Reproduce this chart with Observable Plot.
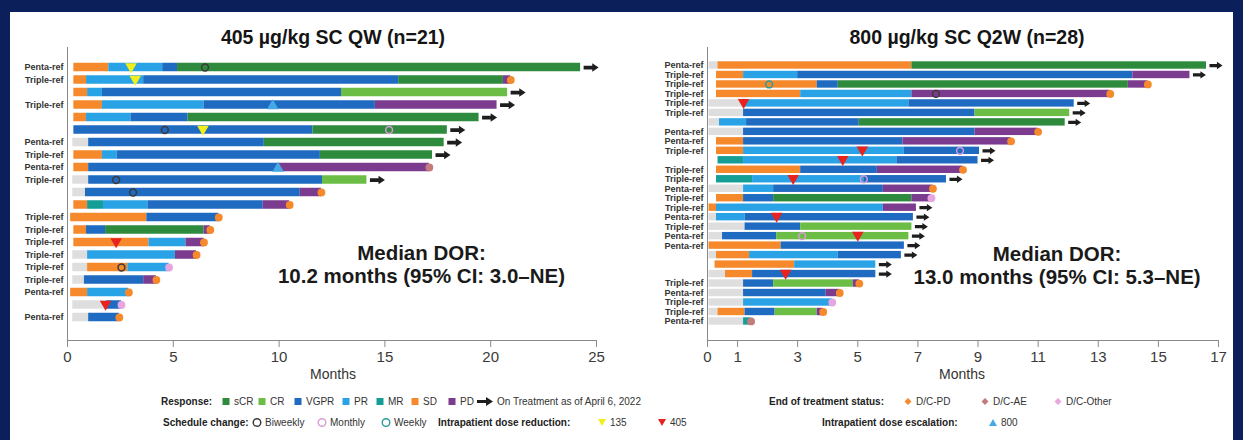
<!DOCTYPE html>
<html>
<head>
<meta charset="utf-8">
<script src="https://cdn.jsdelivr.net/npm/d3@7"></script>
<script src="https://cdn.jsdelivr.net/npm/@observablehq/plot@0.6"></script>
<style>
  html, body { margin: 0; padding: 0; }
  body { width: 1243px; height: 440px; overflow: hidden; background: #0b1f5b; position: relative;
         font-family: "Liberation Sans", Arial, sans-serif; }
  #sheet { position: absolute; left: 10px; top: 12px; width: 1223px; height: 440px; background: #fff; }
  .chart { position: absolute; top: 0; }
  .title { position: absolute; top: 26px; transform: translateX(-50%); white-space: nowrap;
           font-weight: bold; font-size: 19.5px; color: #151515; }
  .xlabel { position: absolute; top: 366px; transform: translateX(-50%); font-size: 14px; color: #333; }
  .lg { position: absolute; display: flex; align-items: center; gap: 3px; white-space: nowrap;
        font-size: 10px; color: #333; transform: translateY(-50%); }
  .lg.head { font-weight: bold; color: #222; }
  .lg svg { display: block; }
</style>
</head>
<body>
<div id="sheet"></div>
<script>
// ---- response categories and colours ----
const responseLevels = ["sCR", "CR", "VGPR", "PR", "MR", "SD", "PD"];
const responseColors = ["#2e8a3c", "#6cbd45", "#1f6bc1", "#2aa2e6", "#159e96", "#f5892b", "#7b3b8f"];
const notEvaluated = "NE";
const notEvaluatedColor = "#dedede";

// ---- end of treatment status ----
const endLevels = ["D/C-PD", "D/C-AE", "D/C-Other"];
const endColors = ["#f5892b", "#c47b7b", "#e7a6e2"];
const ongoingLabel = "On Treatment as of April 6, 2022";

// ---- schedule changes and dose modifications ----
const scheduleLevels = ["Biweekly", "Monthly", "Weekly"];
const scheduleColors = ["#3a3a3a", "#d79bd6", "#2a9c9c"];
const reductionDoses = ["135", "405"];
const reductionColors = ["#f2ee1c", "#e8231f"];
const escalationDoses = ["800"];
const escalationColors = ["#45a9e6"];

// ---- 405 µg/kg SC QW cohort (n=21) ----
const qwLabels = ["Penta-ref", "Triple-ref", "", "Triple-ref", "", "", "Penta-ref", "Triple-ref", "Penta-ref", "Triple-ref", "",
  "", "Triple-ref", "Triple-ref", "Triple-ref", "Triple-ref", "Triple-ref", "Triple-ref", "Penta-ref", "", "Penta-ref"];
const qwPhases = [
  ["SD", "PR", "VGPR", "sCR"],
  ["SD", "PR", "VGPR", "sCR", "PD"],
  ["SD", "PR", "VGPR", "CR"],
  ["SD", "PR", "VGPR", "PD"],
  ["SD", "PR", "VGPR", "sCR"],
  ["VGPR", "sCR"],
  ["NE", "VGPR", "sCR"],
  ["SD", "PR", "VGPR", "sCR"],
  ["SD", "VGPR", "PD"],
  ["NE", "VGPR", "CR"],
  ["NE", "VGPR", "PD"],
  ["SD", "MR", "PR", "VGPR", "PD"],
  ["SD", "VGPR"],
  ["SD", "VGPR", "sCR", "PD"],
  ["SD", "PR", "PD"],
  ["NE", "PR", "PD"],
  ["NE", "SD", "PR"],
  ["NE", "VGPR", "PD"],
  ["SD", "PR"],
  ["NE", "VGPR"],
  ["NE", "VGPR"]
];
const qwBreaks = [
  [0.3, 1.95, 4.5, 5.2, 24.25],
  [0.3, 0.9, 3.6, 15.65, 20.6, 20.95],
  [0.3, 0.95, 1.65, 12.95, 20.8],
  [0.3, 1.65, 6.45, 14.55, 20.3],
  [0.3, 0.9, 3.0, 5.7, 19.45],
  [0.3, 11.6, 17.95],
  [0.25, 1.0, 9.3, 17.8],
  [0.3, 1.65, 2.35, 11.95, 17.25],
  [0.3, 1.0, 9.95, 17.1],
  [0.25, 1.0, 12.05, 14.15],
  [0.25, 0.85, 11.0, 12.0],
  [0.3, 0.95, 1.7, 3.8, 9.25, 10.5],
  [0.15, 3.75, 7.15],
  [0.3, 0.9, 1.8, 6.45, 6.75],
  [0.3, 3.85, 5.6, 6.45],
  [0.25, 0.95, 5.1, 6.1],
  [0.25, 0.95, 2.85, 4.8],
  [0.25, 0.8, 3.6, 4.2],
  [0.15, 0.95, 2.9],
  [0.25, 1.85, 2.55],
  [0.25, 1.0, 2.45]
];
const qwEnd = ["On", "D/C-PD", "On", "On", "On", "On", "On", "On", "D/C-AE", "On", "D/C-PD",
  "D/C-PD", "D/C-PD", "D/C-PD", "D/C-PD", "D/C-PD", "D/C-Other", "D/C-PD", "D/C-PD", "D/C-Other", "D/C-PD"];
const qwSchedule = [[1, 6.5, "Biweekly"], [6, 4.6, "Biweekly"], [6, 15.2, "Monthly"], [10, 2.3, "Biweekly"],
  [11, 3.1, "Biweekly"], [17, 2.55, "Biweekly"]];
const qwReduction = [[1, 3.0, "135"], [2, 3.2, "135"], [6, 6.4, "135"], [15, 2.3, "405"], [20, 1.8, "405"]];
const qwEscalation = [[4, 9.7, "800"], [9, 9.95, "800"]];
const qwTicks = [0, 5, 10, 15, 20, 25];

// ---- 800 µg/kg SC Q2W cohort (n=28) ----
const q2wLabels = ["Penta-ref", "Triple-ref", "Triple-ref", "Triple-ref", "Triple-ref", "Triple-ref", "", "Penta-ref",
  "Penta-ref", "Triple-ref", "", "Triple-ref", "Triple-ref", "Penta-ref", "Triple-ref", "Triple-ref", "Penta-ref",
  "Triple-ref", "Penta-ref", "Penta-ref", "", "", "", "Triple-ref", "Penta-ref", "Triple-ref", "Triple-ref", "Penta-ref"];
const q2wPhases = [
  ["NE", "SD", "sCR"],
  ["SD", "PR", "VGPR", "PD"],
  ["SD", "VGPR", "sCR", "PD"],
  ["SD", "PR", "PD"],
  ["NE", "PR", "VGPR"],
  ["NE", "VGPR", "CR"],
  ["NE", "PR", "VGPR", "sCR"],
  ["NE", "VGPR", "PD"],
  ["SD", "VGPR", "PD"],
  ["SD", "PR", "VGPR"],
  ["MR", "PR", "VGPR"],
  ["SD", "VGPR", "PD"],
  ["MR", "PR", "VGPR"],
  ["NE", "PR", "VGPR", "PD"],
  ["SD", "VGPR", "sCR", "PD"],
  ["SD", "PR", "PD"],
  ["NE", "PR", "VGPR"],
  ["NE", "VGPR", "CR"],
  ["NE", "VGPR", "CR"],
  ["SD", "VGPR"],
  ["NE", "SD", "PR", "VGPR"],
  ["SD", "PR"],
  ["NE", "SD", "VGPR"],
  ["NE", "VGPR", "CR", "PD"],
  ["NE", "VGPR", "PD"],
  ["NE", "PR"],
  ["NE", "SD", "VGPR", "CR", "PD"],
  ["NE", "MR"]
];
const q2wBreaks = [
  [0.05, 0.35, 6.8, 16.6],
  [0.3, 1.2, 3.0, 14.15, 16.05],
  [0.3, 3.65, 4.35, 14.0, 14.65],
  [0.3, 3.1, 6.8, 13.4],
  [0.05, 1.2, 6.7, 12.2],
  [0.05, 1.2, 8.9, 12.05],
  [0.05, 0.4, 1.3, 5.05, 11.9],
  [0.05, 1.2, 8.9, 11.0],
  [0.3, 1.2, 6.5, 10.1],
  [0.3, 1.2, 6.55, 9.05],
  [0.35, 1.2, 6.3, 9.0],
  [0.3, 3.1, 5.65, 8.5],
  [0.3, 1.5, 5.2, 7.95],
  [0.05, 1.2, 2.2, 5.85, 7.5],
  [0.3, 1.2, 2.2, 6.8, 7.45],
  [0.05, 0.3, 5.85, 6.95],
  [0.05, 0.3, 1.25, 6.85],
  [0.05, 1.25, 3.1, 6.8],
  [0.05, 0.5, 2.3, 6.7],
  [0.05, 2.45, 6.55],
  [0.05, 0.3, 1.4, 4.35, 6.45],
  [0.25, 2.9, 5.6],
  [0.05, 0.6, 1.5, 5.6],
  [0.05, 1.2, 2.2, 4.85, 5.05],
  [0.05, 1.2, 3.95, 4.4],
  [0.05, 1.2, 4.15],
  [0.05, 0.35, 1.25, 2.25, 3.65, 3.85],
  [0.05, 1.2, 1.45]
];
const q2wEnd = ["On", "On", "D/C-PD", "D/C-PD", "On", "On", "On", "D/C-PD", "D/C-PD", "On", "On", "D/C-PD", "On",
  "D/C-PD", "D/C-Other", "On", "On", "On", "On", "On", "On", "On", "On", "D/C-PD", "D/C-PD", "D/C-Other", "D/C-PD", "D/C-AE"];
const q2wSchedule = [[3, 2.05, "Weekly"], [4, 7.6, "Biweekly"], [10, 8.4, "Monthly"], [13, 5.2, "Monthly"], [19, 3.15, "Monthly"]];
const q2wReduction = [[5, 1.2, "405"], [10, 5.15, "405"], [11, 4.5, "405"], [13, 2.85, "405"], [17, 2.3, "405"],
  [19, 5.0, "405"], [23, 2.6, "405"]];
const q2wEscalation = [];
const q2wTicks = [0, 1, 3, 5, 7, 9, 11, 13, 15, 17];

// ---- lookups ----
const colorOfResponse = new Map(responseLevels.map((k, i) => [k, responseColors[i]]));
colorOfResponse.set(notEvaluated, notEvaluatedColor);
const colorOfEnd = new Map(endLevels.map((k, i) => [k, endColors[i]]));
const colorOfSchedule = new Map(scheduleLevels.map((k, i) => [k, scheduleColors[i]]));
const colorOfReduction = new Map(reductionDoses.map((k, i) => [k, reductionColors[i]]));
const colorOfEscalation = new Map(escalationDoses.map((k, i) => [k, escalationColors[i]]));

const font = "'Liberation Sans', Arial, sans-serif";

// solid block arrow used as the "still on treatment" symbol
const blockArrow = {
  draw(ctx, size) {
    const r = Math.sqrt(size / Math.PI);
    const h1 = 0.25 * r, h2 = 0.56 * r, b = 0.15 * r;
    ctx.moveTo(-r, -h1); ctx.lineTo(b, -h1); ctx.lineTo(b, -h2); ctx.lineTo(r, 0);
    ctx.lineTo(b, h2); ctx.lineTo(b, h1); ctx.lineTo(-r, h1); ctx.closePath();
  }
};

function swimmer(cfg) {
  const {labels, phases, breaks, ends, schedule, reduction, escalation, xMax, ticks,
         width, marginLeft, marginRight, rowTop, rowStep, barHalf, arrowR, dor} = cfg;
  const height = 390, axisTop = 47, axisBottom = 340;
  const segs = [];
  phases.forEach((ph, i) => ph.forEach((s, j) =>
    segs.push({row: i + 1, x1: breaks[i][j], x2: breaks[i][j + 1], status: s})));
  const lasts = breaks.map((b, i) => ({row: i + 1, end: b[b.length - 1], status: ends[i]}));
  const tickRows = labels.map((l, i) => l ? i + 1 : null).filter(d => d !== null);
  const toPt = a => a.map(([row, x, k]) => ({row, x, k}));

  return Plot.plot({
    width, height, marginLeft, marginRight, marginTop: axisTop, marginBottom: height - axisBottom,
    style: {fontFamily: font, background: "transparent", color: "#333", overflow: "visible"},
    x: {domain: [0, xMax]},
    y: {domain: [1 + (axisTop - rowTop) / rowStep, 1 + (axisBottom - rowTop) / rowStep], reverse: true},
    color: {type: "identity"},
    marks: [
      Plot.rect(segs, {x1: "x1", x2: "x2", y1: d => d.row - barHalf, y2: d => d.row + barHalf,
        fill: d => colorOfResponse.get(d.status)}),
      Plot.dot(lasts.filter(d => d.status === "On"), {x: "end", y: "row", symbol: blockArrow,
        r: arrowR, dx: arrowR + 3, fill: "#1e1e1e", stroke: "none"}),
      Plot.dot(lasts.filter(d => d.status !== "On"), {x: "end", y: "row", r: 3.9,
        fill: d => colorOfEnd.get(d.status)}),
      Plot.dot(toPt(schedule), {x: "x", y: "row", r: 3.4, fill: "none", strokeWidth: 1.5,
        stroke: d => colorOfSchedule.get(d.k)}),
      Plot.dot(toPt(reduction), {x: "x", y: "row", symbol: "triangle", rotate: 180, r: 4.3, dy: -1,
        fill: d => colorOfReduction.get(d.k)}),
      Plot.dot(toPt(escalation), {x: "x", y: "row", symbol: "triangle", r: 4.3, dy: 1,
        fill: d => colorOfEscalation.get(d.k)}),
      Plot.frame({anchor: "left", stroke: "#8a8a8a"}),
      Plot.frame({anchor: "bottom", stroke: "#8a8a8a"}),
      Plot.axisX(ticks, {tickSize: 7, tickPadding: 4, fontSize: 15, stroke: "#8a8a8a", fill: "#3a3a3a", label: null}),
      Plot.axisY(tickRows, {tickSize: 0, tickPadding: 4, tickFormat: r => labels[r - 1],
        fontSize: 9, fontWeight: "bold", fill: "#333", label: null}),
      Plot.text([dor.text], {x: dor.x, y: dor.y, text: d => d, fontSize: 20.5, fontWeight: "bold",
        lineHeight: 1.12, fill: "#1a1a1a"})
    ]
  });
}

function place(node, left) {
  node.classList.add("chart");
  node.style.left = left + "px";
  document.body.appendChild(node);
}
function addText(cls, text, x) {
  const d = document.createElement("div");
  d.className = cls; d.textContent = text; d.style.left = x + "px";
  document.body.appendChild(d);
}

place(swimmer({
  labels: qwLabels, phases: qwPhases, breaks: qwBreaks, ends: qwEnd,
  schedule: qwSchedule, reduction: qwReduction, escalation: qwEscalation,
  xMax: 25, ticks: qwTicks, width: 620, marginLeft: 67, marginRight: 24,
  rowTop: 67, rowStep: 12.5, barHalf: 0.34, arrowR: 7.5,
  dor: {text: "Median DOR:\n10.2 months (95% CI: 3.0–NE)", x: 16.73, y: 16.7}
}), 0);

place(swimmer({
  labels: q2wLabels, phases: q2wPhases, breaks: q2wBreaks, ends: q2wEnd,
  schedule: q2wSchedule, reduction: q2wReduction, escalation: q2wEscalation,
  xMax: 17, ticks: q2wTicks, width: 623, marginLeft: 87, marginRight: 25,
  rowTop: 65, rowStep: 9.48, barHalf: 0.39, arrowR: 6.5,
  dor: {text: "Median DOR:\n13.0 months (95% CI: 5.3–NE)", x: 11.63, y: 22.1}
}), 620);

addText("title", "405 µg/kg SC QW (n=21)", 333);
addText("title", "800 µg/kg SC Q2W (n=28)", 967);
addText("xlabel", "Months", 333);
addText("xlabel", "Months", 962);

// ---- legend ----
const svgNS = "http://www.w3.org/2000/svg";
function glyph(kind, color) {
  const s = document.createElementNS(svgNS, "svg");
  s.setAttribute("width", kind === "arrow" ? 18 : 10);
  s.setAttribute("height", 10);
  let el;
  if (kind === "square") {
    el = document.createElementNS(svgNS, "rect");
    el.setAttribute("x", 1.5); el.setAttribute("y", 1.5); el.setAttribute("width", 7); el.setAttribute("height", 7);
    el.setAttribute("fill", color);
  } else if (kind === "circle") {
    el = document.createElementNS(svgNS, "circle");
    el.setAttribute("cx", 5); el.setAttribute("cy", 5); el.setAttribute("r", 3.8);
    el.setAttribute("fill", "none"); el.setAttribute("stroke", color); el.setAttribute("stroke-width", 1.4);
  } else if (kind === "diamond") {
    el = document.createElementNS(svgNS, "path");
    el.setAttribute("d", "M5,1.5L8.5,5L5,8.5L1.5,5Z"); el.setAttribute("fill", color);
  } else if (kind === "down") {
    el = document.createElementNS(svgNS, "path");
    el.setAttribute("d", "M1,1.5L9,1.5L5,8.5Z"); el.setAttribute("fill", color);
  } else if (kind === "up") {
    el = document.createElementNS(svgNS, "path");
    el.setAttribute("d", "M1,8.5L9,8.5L5,1.5Z"); el.setAttribute("fill", color);
  } else if (kind === "arrow") {
    el = document.createElementNS(svgNS, "path");
    el.setAttribute("d", "M1,3.5L10,3.5L10,0.5L17,5L10,9.5L10,6.5L1,6.5Z"); el.setAttribute("fill", color);
  }
  s.appendChild(el);
  return s;
}
function legendPiece(x, y, cls, kind, color, label) {
  const d = document.createElement("div");
  d.className = "lg " + cls;
  d.style.left = x + "px"; d.style.top = y + "px";
  if (kind) d.appendChild(glyph(kind, color));
  const t = document.createElement("span"); t.textContent = label; d.appendChild(t);
  document.body.appendChild(d);
}
function legendGroup(y, titleX, title, kind, labels, colors, xs) {
  if (title) legendPiece(titleX, y, "head", null, null, title);
  labels.forEach((l, i) => legendPiece(xs[i], y, "", kind, colors[i], l));
}
legendGroup(401, 161, "Response:", "square", responseLevels, responseColors, [221, 257, 293, 341, 375, 410, 447]);
legendGroup(401, null, null, "arrow", [ongoingLabel], ["#1e1e1e"], [476]);
legendGroup(401, 769, "End of treatment status:", "diamond", endLevels, endColors, [903, 980, 1053]);
legendGroup(422, 163, "Schedule change:", "circle", scheduleLevels, scheduleColors, [252, 317, 381]);
legendGroup(422, 438, "Intrapatient dose reduction:", "down", reductionDoses, reductionColors, [597, 657]);
legendGroup(422, 822, "Intrapatient dose escalation:", "up", escalationDoses, escalationColors, [988]);
</script>
</body>
</html>
